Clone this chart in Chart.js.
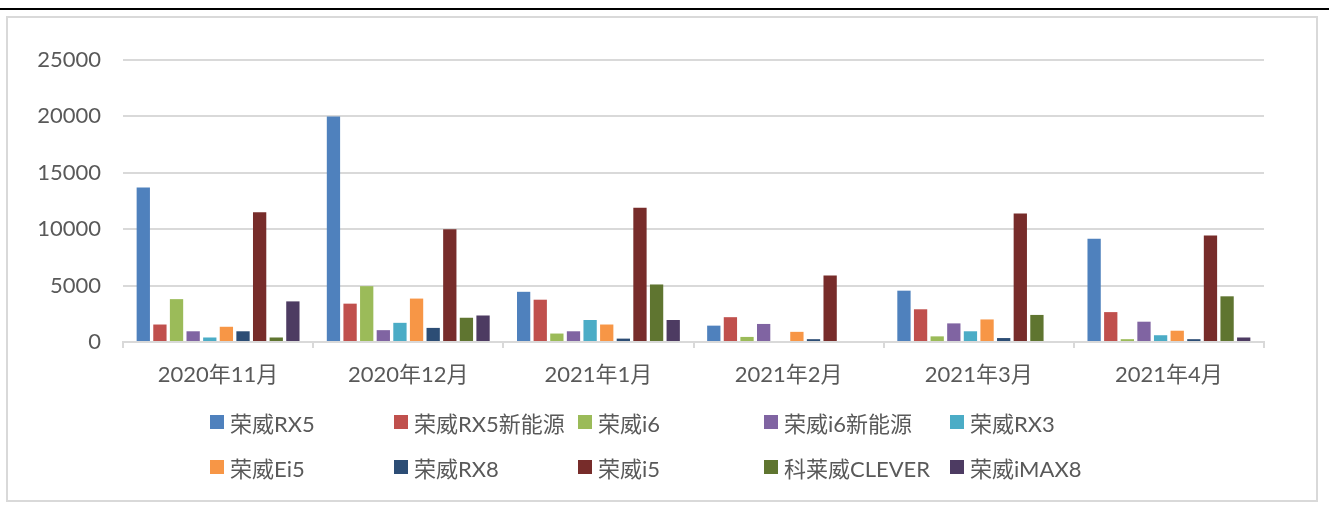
<!DOCTYPE html>
<html lang="zh">
<head>
  <meta charset="UTF-8">
  <title>荣威月度销量</title>
  <script src="https://cdn.jsdelivr.net/npm/chart.js"></script>
  <style>
    body { margin: 0; background: #fff; width: 1329px; height: 505px; position: relative; overflow: hidden;
           font-family: Lato, "Noto Sans CJK SC", sans-serif; }
    .topline { position: absolute; left: 0; top: 8px; width: 1329px; height: 2px; background: #000; }
    .frame { position: absolute; left: 6px; top: 16px; width: 1312px; height: 486px; box-sizing: border-box;
             border: 2px solid #d9d9d9; }
    .chart-wrapper { position: absolute; left: 8px; top: 18px; width: 1308px; height: 482px; }
    .legend { position: absolute; left: 210px; top: 409px; display: grid;
              grid-template-columns: 184px 184px 186px 186px 180px; row-gap: 19px; }
    .legend-item { display: flex; align-items: center; height: 26px; font-size: 22px; color: #595959; white-space: nowrap; }
    .legend-item i { display: inline-block; width: 14px; height: 14px; margin-right: 6px; }
  </style>
</head>
<body>
  <div class="topline"></div>
  <div class="frame"></div>
  <div class="chart-wrapper"><canvas id="salesChart"></canvas></div>
  <div class="legend" id="legend"></div>

  <script>
    const months = ['2020年11月', '2020年12月', '2021年1月', '2021年2月', '2021年3月', '2021年4月'];
    const seriesNames = ['荣威RX5', '荣威RX5新能源', '荣威i6', '荣威i6新能源', '荣威RX3',
                         '荣威Ei5', '荣威RX8', '荣威i5', '科莱威CLEVER', '荣威iMAX8'];
    const seriesColors = ['#4F81BD', '#C0504D', '#9BBB59', '#8064A2', '#4BACC6',
                          '#F79646', '#2C4D75', '#772C2A', '#5F7530', '#4D3B62'];

    const rx5 = [13700, 20000, 4450, 1450, 4550, 9150];
    const rx5Ev = [1550, 3400, 3750, 2200, 2900, 2650];
    const i6 = [3800, 4950, 750, 450, 500, 250];
    const i6Ev = [950, 1050, 950, 1600, 1650, 1800];
    const rx3 = [400, 1700, 1950, 0, 950, 600];
    const ei5 = [1350, 3850, 1550, 900, 2000, 1000];
    const rx8 = [950, 1250, 300, 250, 350, 250];
    const i5 = [11500, 10000, 11900, 5900, 11400, 9450];
    const clever = [400, 2150, 5100, 0, 2400, 4050];
    const imax8 = [3600, 2350, 1950, 0, 0, 400];

    const yTicks = [0, 5000, 10000, 15000, 20000, 25000];

    const seriesValues = [rx5, rx5Ev, i6, i6Ev, rx3, ei5, rx8, i5, clever, imax8];

    const datasets = seriesNames.map((name, i) => ({
      label: name,
      data: seriesValues[i],
      backgroundColor: seriesColors[i],
      borderWidth: 0,
      barPercentage: 0.8,
      categoryPercentage: 0.874
    }));

    const tickFont = { family: 'Lato, "Noto Sans CJK SC", sans-serif', size: 22 };

    new Chart(document.getElementById('salesChart').getContext('2d'), {
      type: 'bar',
      data: { labels: months, datasets },
      options: {
        responsive: true,
        maintainAspectRatio: false,
        animation: false,
        layout: { padding: { top: 42, right: 52, bottom: 0, left: 0 } },
        plugins: { legend: { display: false }, tooltip: { enabled: false } },
        scales: {
          x: {
            grid: { drawOnChartArea: false, drawTicks: true, tickLength: 6, offset: true, color: '#d9d9d9', lineWidth: 2 },
            border: { display: true, color: '#d9d9d9', width: 2 },
            ticks: { font: tickFont, color: '#595959', padding: 14, maxRotation: 0 },
            afterFit: s => { s.height = 158; }
          },
          y: {
            min: 0,
            max: 25000,
            afterBuildTicks: s => { s.ticks = yTicks.map(v => ({ value: v })); },
            grid: { color: '#d9d9d9', lineWidth: 2, drawTicks: false },
            border: { display: false },
            ticks: { font: tickFont, color: '#595959', padding: 22, callback: v => String(v) },
            afterFit: s => { s.width = 115; }
          }
        }
      }
    });

    document.getElementById('legend').innerHTML = seriesNames.map((name, i) =>
      `<div class="legend-item"><i style="background:${seriesColors[i]}"></i>${name}</div>`).join('');
  </script>
</body>
</html>
